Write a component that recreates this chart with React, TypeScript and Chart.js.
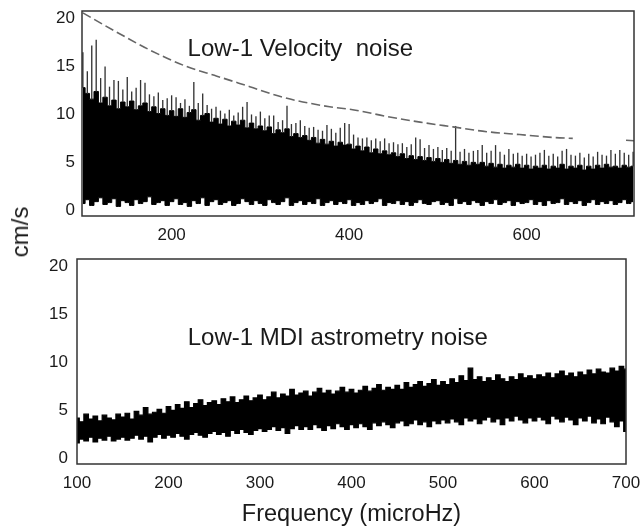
import React, { useEffect, useRef } from 'react';
import { Chart, registerables } from 'chart.js';

Chart.register(...registerables);
Chart.defaults.font.family = '"Liberation Sans", Arial, Helvetica, sans-serif';
Chart.defaults.color = '#1a1a1a';

// ---------- Top panel: Low-l velocity noise (cm/s) ----------
const VEL_START = 100; // microHz
const VEL_STEP = 5; // microHz per bin
const velLow = [
  0.7, 1.1, 0.5, 0.9, 1.3, 0.6, 0.8, 1.2, 0.4, 1.0,
  0.8, 0.5, 1.1, 0.7, 0.9, 1.4, 0.6, 0.8, 1.0, 0.5,
  0.9, 1.2, 0.6, 0.8, 0.4, 1.0, 0.7, 1.3, 0.5, 0.9,
  1.1, 0.6, 0.8, 1.0, 0.5, 0.7, 1.2, 0.9, 0.6, 1.0,
  0.7, 0.5, 1.1, 0.8, 0.6, 0.9, 1.3, 0.5, 0.8, 1.0,
  0.6, 0.9, 0.7, 1.2, 0.5, 0.8, 1.0, 0.6, 0.9, 0.7,
  1.1, 0.5, 0.8, 0.6, 1.0, 0.7, 0.9, 1.2, 0.5, 0.8,
  0.7, 1.0, 0.6, 0.9, 0.5, 0.8, 1.1, 0.7, 0.6, 0.9,
  1.0, 0.6, 0.8, 0.5, 1.2, 0.7, 0.9, 0.6, 1.0, 0.8,
  0.5, 0.9, 0.7, 1.1, 0.6, 0.8, 1.0, 0.5, 0.9, 0.7,
  0.8, 1.1, 0.6, 0.9, 0.5, 1.0, 0.7, 0.8, 1.2, 0.6,
  0.9, 0.7, 1.0, 0.5, 0.8, 1.1, 0.6, 0.9, 0.7, 1.0,
  0.6, 0.8, 1.1, 0.7, 0.9,
];
const velCore = [
  12.8, 12.2, 11.6, 12.4, 11.2, 11.8, 10.9, 11.5, 10.6, 11.3,
  10.8, 11.4, 10.5, 10.9, 11.2, 10.3, 10.8, 10.1, 10.6, 9.9,
  10.4, 9.8, 10.6, 9.7, 10.2, 10.5, 9.4, 9.9, 10.1, 9.2,
  9.6, 9.0, 9.5, 8.8, 9.3, 8.9, 9.4, 8.6, 9.1, 8.5,
  8.8, 8.3, 8.7, 8.0, 8.4, 8.1, 8.5, 7.7, 8.0, 7.6,
  7.8, 7.3, 7.6, 7.0, 7.4, 6.9, 7.2, 6.7, 7.1, 6.8,
  6.9, 6.4, 6.7, 6.2, 6.6, 6.0, 6.4, 5.9, 6.2, 5.8,
  6.0, 5.6, 5.9, 5.4, 5.7, 5.3, 5.6, 5.2, 5.5, 5.1,
  5.4, 5.0, 5.3, 4.9, 5.2, 4.8, 5.1, 4.7, 5.0, 4.8,
  5.0, 4.6, 4.9, 4.5, 4.8, 4.4, 4.7, 4.5, 4.8, 4.4,
  4.7, 4.3, 4.6, 4.4, 4.7, 4.3, 4.6, 4.4, 4.8, 4.3,
  4.6, 4.4, 4.7, 4.2, 4.6, 4.3, 4.7, 4.4, 4.8, 4.5,
  4.6, 4.4, 4.7, 4.5, 4.6,
];
const velPeak = [
  16.5, 14.5, 17.2, 17.8, 13.8, 15.0, 12.9, 13.6, 13.5, 12.6,
  13.9, 12.4, 12.8, 13.6, 13.3, 12.1, 11.9, 12.3, 11.5, 11.7,
  12.0, 11.8, 11.2, 11.6, 10.9, 13.4, 11.2, 12.2, 11.0, 10.6,
  10.8, 10.4, 10.1, 10.5, 9.9, 10.2, 10.8, 11.3, 10.0, 9.8,
  10.3, 9.6, 9.9, 9.9, 9.2, 9.4, 10.9, 9.0, 9.1, 9.4,
  8.8, 8.6, 8.7, 8.4, 8.3, 8.9, 8.5, 8.1, 8.6, 9.1,
  9.0, 7.9, 7.6, 7.5, 7.6, 7.3, 7.5, 7.2, 7.5, 7.0,
  7.1, 6.9, 7.0, 6.6, 6.9, 7.6, 7.4, 6.5, 6.8, 6.4,
  6.6, 6.3, 6.5, 6.2, 8.8, 6.1, 6.4, 6.0, 6.2, 6.3,
  6.8, 6.0, 6.2, 6.8, 6.1, 5.8, 6.4, 5.9, 6.0, 5.7,
  5.9, 5.6, 5.8, 6.0, 6.3, 5.7, 5.9, 5.6, 6.2, 6.4,
  5.8, 5.7, 6.0, 5.5, 5.9, 5.6, 6.1, 5.8, 5.7, 6.3,
  5.9, 6.3, 6.0, 5.8, 6.1,
];
// dashed reference curve
const velLimitFreq = [100, 138, 176, 217, 251, 288, 325, 378, 404, 442, 480, 517, 555, 592, 630, 652, 680, 712, 721];
const velLimitVal = [20.6, 18.6, 16.7, 15.0, 14.0, 12.9, 11.8, 10.8, 10.5, 9.8, 9.2, 8.7, 8.2, 7.9, 7.6, 7.5, null, 7.3, 7.25];
const velXTicks = [200, 400, 600];

// ---------- Bottom panel: Low-l MDI astrometry noise ----------
const MDI_START = 100;
const MDI_STEP = 5;
const mdiHigh = [
  4.2, 3.8, 4.6, 4.1, 4.4, 3.9, 4.5, 4.2, 4.0, 4.6,
  4.3, 4.7, 4.1, 4.9, 4.5, 5.3, 4.6, 4.8, 5.1, 4.7,
  5.4, 5.0, 5.6, 5.2, 5.9, 5.3, 5.7, 6.1, 5.5, 5.8,
  6.0, 5.6, 6.2, 5.9, 6.4, 5.8, 6.1, 6.5, 6.0, 6.3,
  6.6, 6.1, 6.4, 6.9, 6.3, 6.7, 6.5, 7.2, 6.6, 6.8,
  7.0, 6.5, 6.9, 7.3, 6.8, 7.1, 6.7, 7.0, 7.4, 6.9,
  7.2, 6.8, 7.1, 7.5, 7.0, 7.3, 7.7, 7.1, 7.4, 7.2,
  7.6, 7.2, 7.9, 7.4, 7.7, 8.0, 7.5, 7.8, 8.2, 7.6,
  8.0, 7.7, 8.3, 7.9, 8.6, 8.1, 9.4, 8.2, 8.5, 8.0,
  8.4, 8.1, 8.7, 8.3, 8.0, 8.5, 8.2, 8.8, 8.4, 8.6,
  8.3, 8.7, 8.5, 8.9, 8.4, 8.8, 9.1, 8.6, 8.9, 8.5,
  9.0, 8.7, 9.2, 8.8, 9.3, 9.0, 8.9, 9.4, 9.1, 9.6,
  9.3,
];
const mdiLow = [
  1.6, 2.0, 1.8, 2.2, 1.7, 2.1, 1.9, 2.3, 1.8, 2.0,
  2.2, 1.9, 2.1, 2.4, 2.0, 2.3, 1.7, 2.2, 2.5, 2.1,
  2.4, 2.2, 2.6, 2.3, 2.0, 2.5, 2.7, 2.4, 2.2, 2.6,
  2.8, 2.5, 2.7, 2.3, 2.9, 2.6, 3.0, 2.7, 2.5, 2.9,
  3.1, 2.8, 3.0, 3.3, 2.9, 3.2, 2.6, 3.1, 3.4, 3.0,
  3.3, 3.0, 3.5, 3.2, 2.9, 3.4, 3.1, 3.6, 3.3, 3.0,
  3.5, 3.2, 3.6, 3.3, 3.0, 3.7, 3.4, 3.8, 3.5, 3.2,
  3.7, 3.9, 3.4, 3.6, 4.0, 3.5, 3.8, 3.3, 3.9, 3.6,
  4.0, 3.7, 4.1, 3.8, 3.5, 4.2, 3.9, 4.1, 3.6, 4.0,
  4.3, 3.8, 4.1, 3.5, 4.2, 3.9, 4.4, 4.0, 3.7, 4.2,
  3.9, 4.3, 4.0, 3.6, 4.4, 4.1, 3.8, 4.3, 4.0, 3.5,
  4.2, 3.9, 4.4, 3.7, 4.1, 3.6, 4.3, 3.8, 3.3, 3.9,
  2.8,
];
const mdiXTicks = [100, 200, 300, 400, 500, 600, 700];
const yTicks = [0, 5, 10, 15, 20];

const FONT = '"Liberation Sans", Arial, Helvetica, sans-serif';

const framePlugin = {
  id: 'frame',
  afterDraw(chart: any) {
    const { ctx, chartArea } = chart;
    ctx.save();
    ctx.strokeStyle = '#333';
    ctx.lineWidth = 1.5;
    ctx.strokeRect(chartArea.left, chartArea.top, chartArea.right - chartArea.left, chartArea.bottom - chartArea.top);
    ctx.restore();
  },
};

const notePlugin = {
  id: 'note',
  afterDatasetsDraw(chart: any, _args: any, opts: any) {
    if (!opts || !opts.text) return;
    const { ctx } = chart;
    const x = chart.scales.x.getPixelForValue(opts.x);
    const y = chart.scales.y.getPixelForValue(opts.y);
    ctx.save();
    ctx.font = `24px ${FONT}`;
    ctx.fillStyle = '#1a1a1a';
    ctx.textBaseline = 'middle';
    ctx.textAlign = 'left';
    ctx.fillText(opts.text, x, y);
    ctx.restore();
  },
};

function yScale(width: number, pad: number) {
  return {
    type: 'linear',
    min: -0.6,
    max: 20.8,
    grid: { display: false, drawTicks: false },
    border: { display: false },
    afterBuildTicks: (axis: any) => {
      axis.ticks = yTicks.map((v) => ({ value: v }));
    },
    afterFit: (scale: any) => {
      scale.width = width;
      scale.paddingTop = 0;
      scale.paddingBottom = 0;
    },
    ticks: { padding: pad, font: { size: 17 }, color: '#1a1a1a' },
  };
}

function xScale(min: number, max: number, ticks: number[], height: number, title?: string) {
  return {
    type: 'linear',
    min,
    max,
    offset: false,
    grid: { display: false, drawTicks: false },
    border: { display: false },
    afterBuildTicks: (axis: any) => {
      axis.ticks = ticks.map((v) => ({ value: v }));
    },
    afterFit: (scale: any) => {
      scale.height = height;
      scale.paddingLeft = 0;
      scale.paddingRight = 0;
    },
    ticks: { padding: 9, font: { size: 17 }, color: '#1a1a1a', maxRotation: 0, autoSkip: false },
    title: title
      ? { display: true, text: title, font: { size: 23.5 }, color: '#1a1a1a', padding: { top: 0, bottom: 0 } }
      : { display: false },
  };
}

const lineBase = {
  type: 'line',
  pointRadius: 0,
  pointHoverRadius: 0,
  tension: 0,
  stepped: 'middle',
};

function TopChart() {
  const ref = useRef<HTMLCanvasElement | null>(null);
  useEffect(() => {
    if (!ref.current) return;
    const xs = velCore.map((_, i) => VEL_START + i * VEL_STEP);
    const chart = new Chart(ref.current, {
      type: 'bar',
      data: {
        datasets: [
          {
            ...lineBase,
            label: 'noise floor',
            data: xs.map((x, i) => ({ x, y: velLow[i] })),
            borderColor: '#000',
            borderWidth: 1,
            fill: false,
            order: 3,
          } as any,
          {
            ...lineBase,
            label: 'velocity noise',
            data: xs.map((x, i) => ({ x, y: velCore[i] })),
            borderColor: '#000',
            borderWidth: 1,
            backgroundColor: '#000',
            fill: '-1',
            order: 2,
          } as any,
          {
            type: 'bar',
            label: 'velocity noise peaks',
            data: xs.map((x, i) => ({ x, y: [velCore[i], velPeak[i]] })),
            backgroundColor: '#333333',
            borderWidth: 0,
            barPercentage: 0.3,
            categoryPercentage: 1,
            grouped: false,
            order: 1,
          } as any,
          {
            type: 'line',
            label: 'limit',
            data: velLimitFreq.map((x, i) => ({ x, y: velLimitVal[i] })),
            borderColor: '#666666',
            borderWidth: 1.6,
            borderDash: [9, 4],
            pointRadius: 0,
            pointHoverRadius: 0,
            cubicInterpolationMode: 'monotone',
            spanGaps: false,
            fill: false,
            order: 0,
          } as any,
        ],
      },
      options: {
        responsive: false,
        animation: false,
        layout: { padding: { top: 11, right: 10, left: 0, bottom: 0 } },
        plugins: {
          legend: { display: false },
          tooltip: { enabled: false },
          note: { text: 'Low-1 Velocity  noise', x: 218, y: 16.8 },
        } as any,
        scales: {
          x: xScale(99, 721, velXTicks, 34),
          y: yScale(82, 7),
        } as any,
      },
      plugins: [framePlugin, notePlugin],
    });
    return () => chart.destroy();
  }, []);
  return <canvas ref={ref} width={644} height={250} style={{ position: 'absolute', left: 0, top: 0 }} />;
}

function BottomChart() {
  const ref = useRef<HTMLCanvasElement | null>(null);
  useEffect(() => {
    if (!ref.current) return;
    const xs = mdiHigh.map((_, i) => MDI_START + i * MDI_STEP);
    const chart = new Chart(ref.current, {
      type: 'line',
      data: {
        datasets: [
          {
            ...lineBase,
            label: 'astrometry noise low',
            data: xs.map((x, i) => ({ x, y: mdiLow[i] })),
            borderColor: '#000',
            borderWidth: 1.2,
            fill: false,
          } as any,
          {
            ...lineBase,
            label: 'astrometry noise high',
            data: xs.map((x, i) => ({ x, y: mdiHigh[i] })),
            borderColor: '#000',
            borderWidth: 1.2,
            backgroundColor: '#000',
            fill: '-1',
          } as any,
        ],
      },
      options: {
        responsive: false,
        animation: false,
        layout: { padding: { top: 9, right: 18, left: 0, bottom: 0 } },
        plugins: {
          legend: { display: false },
          tooltip: { enabled: false },
          note: { text: 'Low-1 MDI astrometry noise', x: 221, y: 12.55 },
        } as any,
        scales: {
          x: xScale(100, 700, mdiXTicks, 65, 'Frequency (microHz)'),
          y: yScale(77, 9),
        } as any,
      },
      plugins: [framePlugin, notePlugin],
    });
    return () => chart.destroy();
  }, []);
  return <canvas ref={ref} width={644} height={279} style={{ position: 'absolute', left: 0, top: 250 }} />;
}

export default function App() {
  return (
    <div
      style={{
        position: 'fixed',
        left: 0,
        top: 0,
        width: 644,
        height: 529,
        background: '#fff',
        overflow: 'hidden',
      }}
    >
      <TopChart />
      <BottomChart />
      <div
        style={{
          position: 'absolute',
          left: 20,
          top: 232,
          transform: 'translate(-50%, -50%) rotate(-90deg)',
          fontFamily: FONT,
          fontSize: 24,
          color: '#1a1a1a',
          whiteSpace: 'nowrap',
          lineHeight: 1,
        }}
      >
        cm/s
      </div>
    </div>
  );
}
